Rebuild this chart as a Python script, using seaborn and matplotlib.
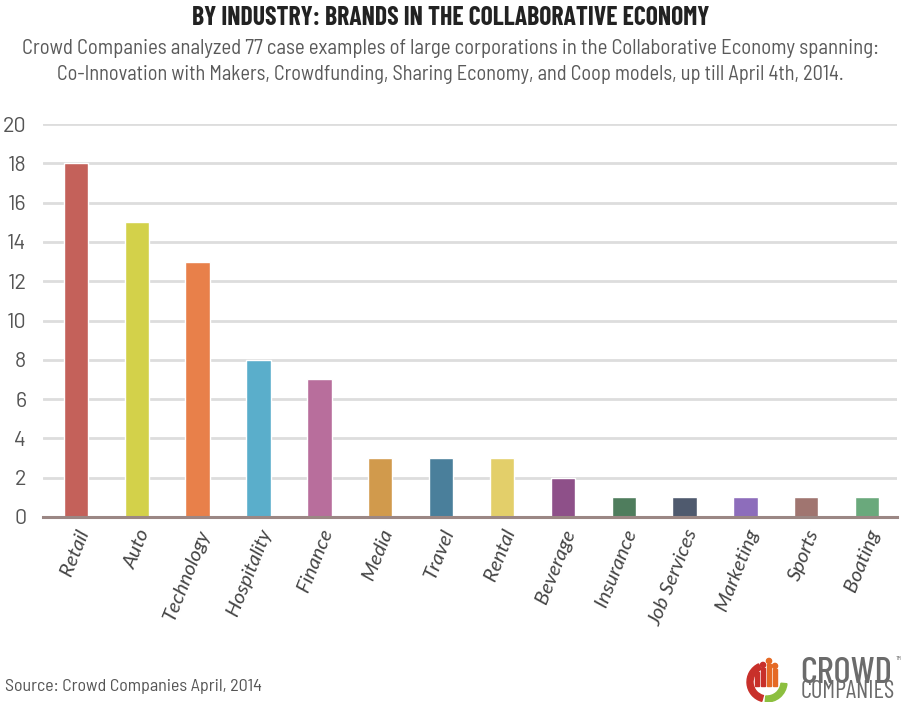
import matplotlib
matplotlib.use("Agg")
import matplotlib.pyplot as plt
from matplotlib import font_manager
from matplotlib.patches import Wedge, Rectangle, Circle
import pandas as pd
import seaborn as sns

# ---- data -------------------------------------------------------------
industries = ["Retail", "Auto", "Technology", "Hospitality", "Finance", "Media",
              "Travel", "Rental", "Beverage", "Insurance", "Job Services",
              "Marketing", "Sports", "Boating"]
brand_counts = [18, 15, 13, 8, 7, 3, 3, 3, 2, 1, 1, 1, 1, 1]
bar_colors = ["#c4615a", "#d3d14a", "#e8804a", "#5aaecb", "#b86e9c", "#d19a4c",
              "#4a7f9b", "#e3cf6a", "#8e5089", "#4f7d5d", "#4f5a6e", "#8d6dbb",
              "#a07570", "#6aa97c"]
y_ticks = [0, 2, 4, 6, 8, 10, 12, 14, 16, 18, 20]

title_text = "BY INDUSTRY: BRANDS IN THE COLLABORATIVE ECONOMY"
subtitle_lines = [
    "Crowd Companies analyzed 77 case examples of large corporations in the Collaborative Economy spanning:",
    "Co-Innovation with Makers, Crowdfunding, Sharing Economy, and Coop models, up till April 4th, 2014.",
]
source_text = "Source: Crowd Companies April, 2014"

df = pd.DataFrame({"industry": industries, "count": brand_counts})

# ---- style --------------------------------------------------------------
sns.set_theme(style="white")
installed = {f.name for f in font_manager.fontManager.ttflist}


def pick(*names):
    return [n for n in names if n in installed] + ["DejaVu Sans"]


DIN_COND = pick("Barlow Condensed", "Roboto Condensed")
DIN_SEMI = pick("Barlow Semi Condensed", "Barlow", "Roboto Condensed")
DIN = pick("Barlow", "Roboto")
GEO = pick("Lato", "Open Sans")
plt.rcParams["font.family"] = DIN

W, H = 906, 704
fig = plt.figure(figsize=(W / 100, H / 100), dpi=100)
fig.patch.set_facecolor("white")
ax = fig.add_axes([43 / W, (H - 517) / H, (897 - 43) / W, (517 - 124) / H])

sns.barplot(data=df, x="industry", y="count", hue="industry",
            palette=dict(zip(industries, bar_colors)), width=0.40,
            legend=False, ax=ax, saturation=1)

ax.set_xlim(-0.54, len(industries) - 1 + 0.49)
ax.set_ylim(0, 20)
ax.set_yticks(y_ticks)
ax.set_yticklabels([str(t) for t in y_ticks], fontsize=15.5, color="#555555",
                   family=DIN)
ax.yaxis.grid(True, color="#dddddd", linewidth=2)
ax.set_axisbelow(True)
for side in ("top", "right", "left"):
    ax.spines[side].set_visible(False)
ax.spines["bottom"].set_color("#9b8784")
ax.spines["bottom"].set_linewidth(2.2)
ax.spines["bottom"].set_zorder(5)
ax.tick_params(axis="y", length=0, pad=12)
ax.tick_params(axis="x", length=0, pad=7)
ax.set_xlabel("")
ax.set_ylabel("")
ax.set_xticks(range(len(industries)))

renderer = fig.canvas.get_renderer()

# size the category labels so "Technology" runs about 96 px
probe = fig.text(0, 0, "Technology", fontsize=12, style="italic", family=GEO)
xfs = 12 * 96 / probe.get_window_extent(renderer).width
probe.remove()
ax.set_xticklabels(industries, rotation=68, ha="right", rotation_mode="anchor",
                   fontsize=xfs, style="italic", color="#444444", family=GEO)

# ---- heading ------------------------------------------------------------
title = fig.text(0.497, 1 - 18 / H, title_text, ha="center", va="center",
                 fontsize=22, fontweight="bold", color="#222222", family=DIN_COND)
sub1 = fig.text(0.497, 1 - 48 / H, subtitle_lines[0], ha="center", va="center",
                fontsize=14, color="#5a5a5a", family=DIN_SEMI)
sub2 = fig.text(0.497, 1 - 74 / H, subtitle_lines[1], ha="center", va="center",
                fontsize=14, color="#5a5a5a", family=DIN_SEMI)
src = fig.text(5 / W, 1 - 686 / H, source_text, ha="left", va="center",
               fontsize=11, color="#555555", family=DIN_SEMI)

# ---- logo ---------------------------------------------------------------
lax = fig.add_axes([742 / W, 1 - 702 / H, 50 / W, 50 / H])
lax.set_xlim(0, 50)
lax.set_ylim(0, 50)
lax.set_aspect("equal")
lax.axis("off")
lax.add_patch(Wedge((25, 20), 20, 115, 255, width=6, color="#c8302a"))
lax.add_patch(Wedge((25, 20), 20, 265, 355, width=6, color="#8cbf3f"))
for x0, h, c in ((13, 14, "#c8302a"), (19, 18, "#c8302a"), (25, 22, "#e56a25"),
                 (31, 17, "#e56a25")):
    lax.add_patch(Rectangle((x0, 16), 4, h, color=c))
    lax.add_patch(Circle((x0 + 2, 16 + h + 3), 2.6, color=c))

crowd = fig.text(800 / W, 1 - 683 / H, "CROWD", ha="left", va="baseline",
                 fontsize=24, fontweight="medium", color="#6b6b6b", family=DIN_COND)
tm = fig.text(896 / W, 1 - 658 / H, "TM", ha="left", va="center", fontsize=4.5,
              color="#6b6b6b", family=DIN_COND)
comp = fig.text(801 / W, 1 - 698 / H, "COMPANIES", ha="left", va="baseline",
                fontsize=12, color="#6b6b6b", family=DIN_COND)

# fit text widths to the layout
for txt, target in ((title, 519), (sub1, 856), (sub2, 786), (src, 257),
                    (crowd, 92), (comp, 94)):
    w = txt.get_window_extent(renderer).width
    txt.set_fontsize(txt.get_fontsize() * target / w)

fig.savefig("out.png", dpi=100, facecolor="white")
